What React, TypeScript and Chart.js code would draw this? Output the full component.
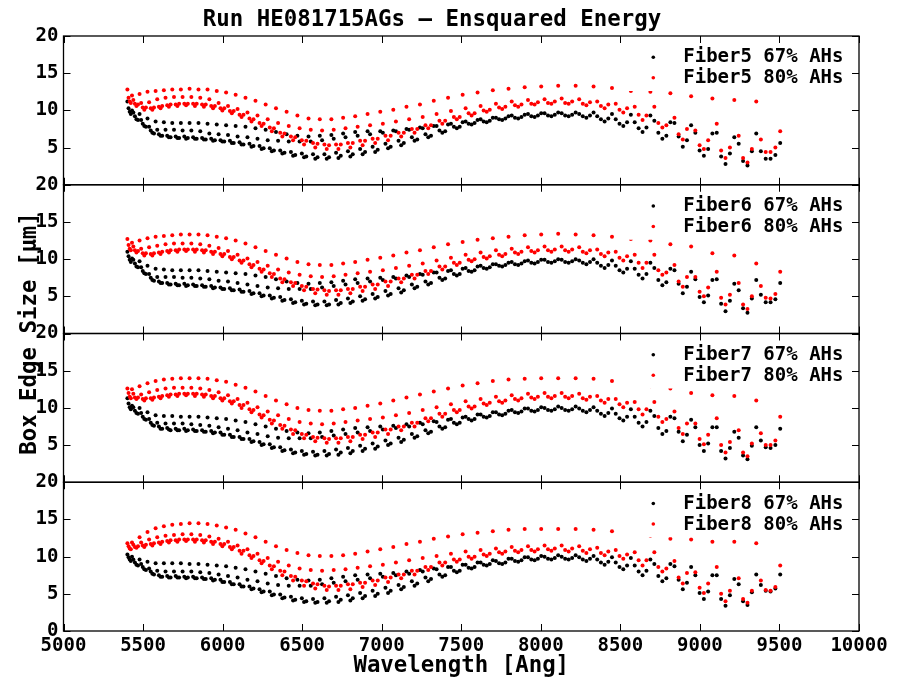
import React, { useEffect, useRef } from 'react';
import { Chart, registerables } from 'chart.js';

Chart.register(...registerables);

const chartTitle = 'Run HE081715AGs – Ensquared Energy';
const xAxisTitle = 'Wavelength [Ang]';
const yAxisTitle = 'Box Edge Size [μm]';
const xTickValues = [5000, 5500, 6000, 6500, 7000, 7500, 8000, 8500, 9000, 9500, 10000];
const yTickValues = [0, 5, 10, 15, 20];
const fiberNames = ['Fiber5', 'Fiber6', 'Fiber7', 'Fiber8'];
const levelNames = ['67% AHs', '80% AHs'];
const levelColors = ['#000000', '#ff0000'];

// echelle order edges [Ang] and sample positions inside each order (fraction of the order)
const orderEdges = [5398, 5434, 5483, 5533, 5584, 5636, 5689, 5743, 5798, 5854, 5911, 5969, 6028, 6088, 6150, 6213, 6277, 6342, 6409, 6477, 6547, 6618, 6691, 6765, 6841, 6919, 6999, 7081, 7164, 7249, 7336, 7426, 7518, 7612, 7708, 7807, 7909, 8013, 8120, 8230, 8343, 8459, 8578, 8701, 8827, 8958, 9092, 9230, 9368, 9520];
const samplePos = [0.1, 0.3, 0.5, 0.7, 0.9];

// box edge size [um], one row per order
const fiber5_67 = [
  [11.2,10.3,9.8,9.5,10.0],[9.7,9.2,8.8,8.7,9.5],[8.7,8.2,7.9,7.8,8.9],[7.8,7.3,7.0,6.9,8.5],[7.4,6.8,6.6,6.6,8.4],
  [7.4,6.6,6.4,6.4,8.3],[7.4,6.5,6.3,6.3,8.3],[7.3,6.5,6.2,6.3,8.3],[7.3,6.4,6.2,6.2,8.3],[7.2,6.3,6.1,6.1,8.2],
  [6.9,6.2,5.9,6.0,8.1],[6.8,6.0,5.8,5.8,8.0],[6.7,5.9,5.6,5.6,7.9],[6.5,5.7,5.4,5.4,7.8],[6.4,5.5,5.1,5.2,7.6],
  [6.2,5.2,4.8,4.9,7.4],[6.0,4.9,4.5,4.6,7.1],[5.9,4.6,4.2,4.3,6.8],[5.8,4.4,3.9,4.0,6.6],[5.8,4.2,3.7,3.8,6.5],
  [5.8,4.1,3.5,3.7,6.6],[6.0,4.1,3.5,3.7,6.7],[6.2,4.3,3.6,3.9,6.9],[6.4,4.5,3.8,4.1,7.1],[6.6,4.8,4.1,4.4,7.2],
  [6.8,5.1,4.4,4.7,7.2],[7.0,5.5,4.9,5.1,7.3],[7.2,5.9,5.3,5.6,7.5],[7.4,6.4,5.9,6.1,7.7],[7.6,6.8,6.4,6.6,7.9],
  [7.9,7.3,7.0,7.2,8.1],[8.2,7.8,7.6,7.8,8.4],[8.5,8.2,8.1,8.3,8.7],[8.8,8.5,8.4,8.6,9.0],[9.0,8.8,8.7,8.9,9.2],
  [9.3,9.0,8.9,9.1,9.4],[9.5,9.2,9.1,9.3,9.6],[9.6,9.3,9.2,9.4,9.7],[9.6,9.3,9.2,9.4,9.7],[9.5,9.2,9.0,9.3,9.7],
  [9.2,8.8,8.5,8.9,9.5],[8.8,8.2,7.9,8.4,9.4],[8.4,7.6,7.1,7.7,9.3],[8.6,7.0,6.2,6.6,8.4],[8.3,6.5,5.1,6.0,8.0],
  [7.0,4.6,3.9,4.8,6.9],[7.0,3.8,2.8,4.2,6.4],[5.5,3.2,2.6,4.5,6.9],[4.5,3.5,3.5,4.0,5.6]
];
const fiber5_80 = [
  [12.8,11.7,11.2,11.0,12.0],[11.4,10.9,10.6,10.8,12.2],[11.0,10.4,10.1,10.4,12.5],[11.1,10.3,10.1,10.4,12.6],[11.5,10.5,10.3,10.6,12.7],
  [11.7,10.7,10.5,10.8,12.8],[11.8,10.8,10.6,10.9,12.8],[11.8,10.9,10.7,10.9,12.9],[11.8,10.9,10.6,10.9,12.8],[11.7,10.8,10.5,10.8,12.8],
  [11.5,10.6,10.3,10.6,12.6],[11.0,10.3,10.0,10.3,12.4],[10.6,9.9,9.6,9.9,12.1],[10.2,9.4,9.1,9.4,11.7],[9.7,8.9,8.5,8.8,11.3],
  [9.3,8.3,7.9,8.2,10.8],[8.8,7.7,7.2,7.6,10.3],[8.3,7.0,6.5,6.9,9.8],[7.9,6.5,6.0,6.4,9.3],[7.6,6.0,5.4,5.9,8.9],
  [7.4,5.6,5.0,5.5,8.8],[7.3,5.4,4.8,5.3,8.8],[7.4,5.4,4.8,5.4,9.0],[7.6,5.6,5.0,5.6,9.2],[7.8,5.9,5.3,5.9,9.5],
  [8.0,6.2,5.6,6.2,9.8],[8.2,6.6,6.0,6.6,10.1],[8.5,7.0,6.5,7.0,10.5],[8.8,7.5,7.0,7.5,10.8],[9.1,8.0,7.6,8.0,11.3],
  [9.5,8.6,8.2,8.6,11.7],[9.9,9.1,8.8,9.1,12.1],[10.3,9.6,9.3,9.6,12.4],[10.6,10.0,9.8,10.1,12.7],[10.9,10.4,10.2,10.5,12.9],
  [11.2,10.7,10.5,10.8,13.1],[11.4,10.9,10.8,11.1,13.2],[11.5,11.0,10.9,11.2,13.3],[11.6,11.0,10.9,11.2,13.3],[11.5,10.9,10.7,11.1,13.2],
  [11.2,10.6,10.3,10.8,13.0],[10.9,10.1,9.7,10.3,12.6],[10.5,9.4,8.7,9.3,12.5],[10.5,8.3,7.7,8.0,12.3],[9.0,6.8,6.1,7.5,11.9],
  [7.3,5.3,4.8,6.0,11.6],[8.2,4.6,3.6,5.0,11.4],[6.6,3.6,3.0,4.8,11.2],[6.1,4.4,4.4,5.0,7.2]
];
const fiber6_67 = [
  [11.0,10.4,9.9,9.6,10.1],[9.9,9.4,9.0,8.9,9.7],[8.9,8.4,8.1,8.0,9.1],[8.0,7.5,7.2,7.1,8.7],[7.6,7.0,6.8,6.8,8.6],
  [7.6,6.8,6.6,6.6,8.5],[7.6,6.7,6.5,6.5,8.5],[7.5,6.7,6.4,6.5,8.5],[7.5,6.6,6.4,6.4,8.5],[7.4,6.5,6.3,6.3,8.4],
  [7.3,6.4,6.1,6.2,8.3],[7.1,6.2,6.0,6.0,8.2],[7.0,6.1,5.8,5.8,8.1],[6.8,5.9,5.6,5.6,8.0],[6.6,5.7,5.3,5.4,7.8],
  [6.4,5.4,5.0,5.1,7.6],[6.2,5.1,4.7,4.8,7.3],[6.1,4.9,4.4,4.5,7.0],[6.0,4.6,4.1,4.2,6.8],[6.0,4.4,3.9,4.0,6.7],
  [6.0,4.3,3.8,3.9,6.8],[6.2,4.3,3.8,3.9,6.9],[6.4,4.5,3.9,4.1,7.1],[6.6,4.7,4.1,4.3,7.3],[6.8,5.0,4.4,4.6,7.4],
  [7.0,5.3,4.7,4.9,7.5],[7.2,5.7,5.1,5.3,7.6],[7.4,6.1,5.5,5.8,7.8],[7.6,6.6,6.1,6.3,8.0],[7.9,7.0,6.6,6.8,8.2],
  [8.2,7.5,7.2,7.4,8.4],[8.5,8.0,7.8,8.0,8.7],[8.8,8.4,8.3,8.5,9.0],[9.1,8.8,8.7,8.9,9.3],[9.3,9.1,9.0,9.2,9.5],
  [9.6,9.3,9.2,9.4,9.7],[9.8,9.5,9.4,9.6,9.9],[9.9,9.6,9.5,9.7,10.0],[9.9,9.6,9.5,9.7,10.0],[9.8,9.5,9.3,9.6,10.0],
  [9.5,9.1,8.8,9.2,9.8],[9.1,8.5,8.2,8.7,9.7],[8.7,7.9,7.4,8.0,9.5],[8.8,7.2,6.5,6.9,8.7],[8.5,6.7,5.4,6.3,8.3],
  [7.3,4.9,4.2,5.1,7.2],[7.3,4.0,3.0,4.4,6.7],[5.8,3.4,2.8,4.7,7.2],[5.2,4.2,4.2,4.6,6.8]
];
const fiber6_80 = [
  [12.7,11.9,11.4,11.2,12.2],[11.7,11.2,10.9,11.1,12.5],[11.4,10.8,10.5,10.8,12.8],[11.6,10.7,10.5,10.8,13.0],[11.8,10.9,10.7,11.0,13.1],
  [12.0,11.1,10.9,11.2,13.2],[12.1,11.2,11.0,11.3,13.3],[12.1,11.3,11.1,11.3,13.3],[12.1,11.3,11.0,11.3,13.3],[12.0,11.2,10.9,11.2,13.2],
  [11.8,11.0,10.7,11.0,13.0],[11.5,10.7,10.4,10.7,12.8],[11.1,10.3,10.0,10.3,12.5],[10.6,9.8,9.5,9.8,12.1],[10.1,9.3,8.9,9.2,11.6],
  [9.6,8.7,8.3,8.6,11.1],[9.1,8.1,7.6,8.0,10.6],[8.6,7.4,6.9,7.3,10.1],[8.2,6.9,6.4,6.8,9.6],[7.9,6.4,5.8,6.3,9.3],
  [7.7,6.0,5.4,5.9,9.2],[7.6,5.8,5.2,5.7,9.2],[7.7,5.8,5.2,5.8,9.4],[7.9,6.0,5.4,6.0,9.6],[8.1,6.3,5.7,6.3,9.9],
  [8.3,6.6,6.0,6.6,10.2],[8.5,7.0,6.4,7.0,10.5],[8.8,7.4,6.9,7.4,10.9],[9.1,7.9,7.4,7.9,11.2],[9.4,8.4,8.0,8.4,11.6],
  [9.8,9.0,8.6,9.0,12.0],[10.2,9.5,9.2,9.5,12.3],[10.6,9.9,9.7,10.0,12.6],[10.9,10.3,10.1,10.4,12.8],[11.2,10.6,10.4,10.7,13.0],
  [11.4,10.9,10.7,11.0,13.2],[11.6,11.1,10.9,11.2,13.3],[11.7,11.2,11.0,11.3,13.4],[11.7,11.2,11.0,11.3,13.3],[11.6,11.0,10.8,11.2,13.2],
  [11.3,10.7,10.4,10.9,13.0],[11.0,10.2,9.8,10.4,12.7],[10.6,9.5,8.8,9.5,12.5],[10.6,8.5,7.9,8.2,12.0],[9.2,7.0,6.3,7.6,11.7],
  [7.6,5.6,5.0,6.2,10.8],[8.3,4.8,3.9,5.2,10.5],[6.8,3.9,3.3,5.0,9.4],[6.4,4.8,4.7,5.3,8.3]
];
const fiber7_67 = [
  [11.3,10.6,10.1,9.8,10.3],[10.1,9.6,9.3,9.2,10.0],[9.3,8.8,8.5,8.4,9.4],[8.5,8.0,7.7,7.6,9.0],[8.0,7.5,7.2,7.2,8.9],
  [7.9,7.3,7.1,7.0,8.9],[7.9,7.2,7.0,7.0,8.8],[7.9,7.2,6.9,7.0,8.8],[7.8,7.1,6.9,6.9,8.8],[7.7,7.0,6.8,6.8,8.7],
  [7.6,6.9,6.6,6.7,8.6],[7.4,6.7,6.4,6.4,8.5],[7.2,6.4,6.1,6.1,8.3],[7.0,6.1,5.8,5.8,8.1],[6.7,5.8,5.4,5.5,7.8],
  [6.5,5.4,5.0,5.1,7.5],[6.2,5.1,4.6,4.7,7.2],[6.0,4.7,4.2,4.3,6.9],[5.9,4.4,3.9,4.0,6.7],[5.9,4.2,3.7,3.8,6.6],
  [5.9,4.1,3.6,3.7,6.7],[6.1,4.2,3.6,3.8,6.9],[6.3,4.4,3.7,4.0,7.1],[6.5,4.6,3.9,4.2,7.3],[6.7,4.9,4.2,4.5,7.4],
  [6.9,5.2,4.5,4.8,7.5],[7.1,5.6,5.0,5.2,7.6],[7.3,6.0,5.4,5.7,7.8],[7.5,6.5,6.0,6.2,8.0],[7.8,7.0,6.6,6.8,8.2],
  [8.1,7.5,7.2,7.4,8.4],[8.5,8.0,7.8,8.0,8.7],[8.8,8.5,8.3,8.5,9.1],[9.1,8.8,8.7,8.9,9.4],[9.4,9.1,9.0,9.2,9.6],
  [9.7,9.4,9.3,9.5,9.9],[9.9,9.6,9.5,9.7,10.1],[10.0,9.7,9.6,9.8,10.2],[10.0,9.7,9.6,9.8,10.2],[9.9,9.6,9.4,9.7,10.1],
  [9.6,9.2,8.9,9.3,9.9],[9.2,8.6,8.3,8.8,9.8],[8.8,8.0,7.5,8.1,9.6],[8.9,7.3,6.5,6.9,8.8],[8.6,6.8,5.5,6.4,8.4],
  [7.4,5.0,4.2,5.2,7.4],[7.4,4.2,3.2,4.6,6.8],[6.0,3.6,3.1,4.9,7.4],[5.6,4.7,4.6,5.0,7.2]
];
const fiber7_80 = [
  [12.6,12.0,11.5,11.3,12.5],[11.9,11.4,11.2,11.4,12.9],[11.8,11.2,11.0,11.3,13.3],[12.1,11.3,11.1,11.4,13.6],[12.4,11.5,11.3,11.6,13.8],
  [12.6,11.7,11.5,11.8,13.9],[12.7,11.8,11.6,11.9,14.0],[12.7,11.9,11.7,11.9,14.0],[12.7,11.9,11.6,11.9,14.0],[12.6,11.8,11.5,11.8,13.9],
  [12.4,11.6,11.3,11.6,13.7],[12.1,11.3,11.0,11.3,13.5],[11.7,10.9,10.6,10.9,13.1],[11.2,10.4,10.0,10.4,12.7],[10.7,9.8,9.4,9.7,12.2],
  [10.1,9.1,8.7,9.0,11.6],[9.5,8.4,7.9,8.3,11.0],[9.0,7.7,7.2,7.6,10.5],[8.5,7.1,6.5,7.0,10.0],[8.1,6.5,5.9,6.4,9.7],
  [7.9,6.1,5.5,6.0,9.6],[7.8,5.9,5.3,5.8,9.6],[7.9,5.9,5.3,5.9,9.8],[8.1,6.1,5.5,6.1,10.0],[8.3,6.4,5.8,6.4,10.3],
  [8.5,6.7,6.1,6.7,10.6],[8.7,7.1,6.5,7.1,11.0],[9.0,7.5,7.0,7.5,11.4],[9.3,8.0,7.5,8.0,11.8],[9.7,8.6,8.2,8.6,12.2],
  [10.1,9.2,8.8,9.2,12.6],[10.5,9.7,9.4,9.7,13.0],[10.9,10.2,9.9,10.2,13.3],[11.2,10.6,10.4,10.7,13.6],[11.5,10.9,10.7,11.0,13.8],
  [11.7,11.2,11.0,11.3,13.9],[11.9,11.4,11.2,11.5,14.0],[12.0,11.5,11.3,11.6,14.0],[12.0,11.5,11.3,11.6,14.0],[11.9,11.3,11.1,11.5,13.9],
  [11.6,11.0,10.7,11.2,13.6],[11.2,10.5,10.1,10.7,13.2],[10.8,9.8,9.1,9.8,12.9],[10.8,8.8,8.1,8.5,12.6],[9.5,7.3,6.5,7.9,12.0],
  [7.9,5.8,5.1,6.4,11.7],[8.6,5.0,4.0,5.4,11.6],[7.0,4.0,3.5,5.2,11.0],[6.6,5.0,5.0,5.6,8.8]
];
const fiber8_67 = [
  [10.3,9.9,9.6,9.4,10.0],[9.6,9.2,8.9,8.8,9.6],[9.0,8.6,8.3,8.2,9.3],[8.4,8.0,7.7,7.6,9.1],[8.1,7.5,7.3,7.3,9.1],
  [8.0,7.4,7.2,7.2,9.1],[8.0,7.4,7.2,7.2,9.1],[8.0,7.3,7.1,7.2,9.0],[8.0,7.3,7.1,7.1,9.0],[7.9,7.2,7.0,7.0,8.9],
  [7.8,7.1,6.8,6.9,8.8],[7.6,6.9,6.6,6.6,8.7],[7.4,6.6,6.3,6.3,8.5],[7.2,6.3,6.0,6.0,8.3],[6.9,6.0,5.6,5.7,8.0],
  [6.7,5.6,5.2,5.3,7.7],[6.4,5.3,4.8,4.9,7.4],[6.2,4.9,4.4,4.5,7.1],[6.1,4.6,4.1,4.2,6.9],[6.1,4.4,3.9,4.0,6.8],
  [6.1,4.3,3.8,3.9,6.9],[6.3,4.4,3.8,4.0,7.1],[6.5,4.6,3.9,4.2,7.3],[6.7,4.8,4.1,4.4,7.5],[6.9,5.1,4.4,4.7,7.6],
  [7.1,5.4,4.7,5.0,7.7],[7.3,5.8,5.1,5.4,7.8],[7.5,6.2,5.6,5.9,8.0],[7.7,6.7,6.1,6.4,8.2],[8.0,7.2,6.7,7.0,8.4],
  [8.3,7.6,7.3,7.5,8.6],[8.6,8.1,7.9,8.1,8.9],[8.9,8.5,8.4,8.6,9.2],[9.2,8.9,8.8,9.0,9.5],[9.4,9.1,9.0,9.2,9.7],
  [9.7,9.4,9.3,9.5,9.9],[9.9,9.6,9.5,9.7,10.1],[10.0,9.7,9.6,9.8,10.2],[10.0,9.7,9.6,9.8,10.2],[9.9,9.6,9.4,9.7,10.1],
  [9.6,9.2,8.9,9.3,9.9],[9.2,8.6,8.3,8.8,9.8],[8.8,8.0,7.5,8.1,9.6],[9.0,7.4,6.7,7.1,9.0],[8.7,6.9,5.6,6.5,8.6],
  [7.5,5.1,4.3,5.3,7.5],[7.5,4.3,3.4,4.8,7.0],[6.3,4.0,3.5,5.2,7.6],[6.2,5.4,5.3,5.7,7.6]
];
const fiber8_80 = [
  [11.8,11.4,11.1,11.0,11.9],[11.6,11.3,11.2,11.4,12.6],[11.9,11.5,11.3,11.6,13.3],[12.3,11.7,11.5,11.8,13.8],[12.6,11.9,11.7,12.0,14.1],
  [12.8,12.1,11.9,12.2,14.3],[12.9,12.2,12.0,12.3,14.4],[13.0,12.3,12.1,12.3,14.5],[13.0,12.3,12.0,12.3,14.5],[12.9,12.2,11.9,12.2,14.4],
  [12.7,12.0,11.7,12.0,14.2],[12.4,11.7,11.4,11.7,13.9],[12.0,11.3,11.0,11.3,13.6],[11.5,10.8,10.4,10.8,13.1],[11.0,10.2,9.8,10.1,12.6],
  [10.4,9.5,9.1,9.4,12.0],[9.8,8.8,8.3,8.7,11.4],[9.3,8.1,7.5,8.0,10.9],[8.8,7.4,6.8,7.3,10.5],[8.4,6.8,6.1,6.7,10.2],
  [8.2,6.4,5.7,6.3,10.1],[8.1,6.1,5.5,6.0,10.1],[8.2,6.1,5.5,6.1,10.2],[8.3,6.3,5.6,6.3,10.4],[8.5,6.5,5.9,6.5,10.7],
  [8.7,6.8,6.2,6.8,11.0],[8.9,7.2,6.6,7.2,11.3],[9.2,7.6,7.1,7.6,11.7],[9.5,8.1,7.6,8.1,12.0],[9.8,8.6,8.2,8.6,12.4],
  [10.1,9.2,8.8,9.2,12.7],[10.4,9.6,9.3,9.6,13.0],[10.7,10.0,9.7,10.0,13.2],[10.9,10.3,10.1,10.4,13.4],[11.1,10.6,10.4,10.7,13.6],
  [11.3,10.8,10.6,10.9,13.7],[11.4,10.9,10.7,11.0,13.7],[11.5,11.0,10.8,11.1,13.7],[11.5,10.9,10.7,11.1,13.7],[11.4,10.8,10.5,11.0,13.6],
  [11.2,10.5,10.2,10.7,13.4],[10.9,10.1,9.7,10.3,13.1],[10.6,9.5,8.8,9.5,12.8],[10.6,8.6,8.0,8.4,12.4],[9.4,7.2,6.4,7.8,12.3],
  [7.9,5.8,5.1,6.4,12.0],[8.6,5.0,4.0,5.4,12.0],[7.1,4.3,3.8,5.4,11.8],[6.8,5.5,5.4,5.9,8.8]
];

const panelSeries = [
  [fiber5_67, fiber5_80],
  [fiber6_67, fiber6_80],
  [fiber7_67, fiber7_80],
  [fiber8_67, fiber8_80],
];

const FONT = "'DejaVu Sans Mono', monospace";
const panelIds = ['p0', 'p1', 'p2', 'p3'];

function toPoints(rows: number[][]) {
  const pts: { x: number; y: number }[] = [];
  rows.forEach((row, i) => {
    const a = orderEdges[i];
    const b = orderEdges[i + 1];
    row.forEach((v, j) => pts.push({ x: a + samplePos[j] * (b - a), y: v }));
  });
  return pts;
}

const decorPlugin = {
  id: 'decor',
  afterDatasetsDraw(chart: any) {
    const ctx = chart.ctx;
    const xs = chart.scales.x;
    ctx.save();
    panelIds.forEach((id, p) => {
      const ys = chart.scales[id];
      const top = ys.top;
      // legend box (opaque, no frame)
      ctx.fillStyle = '#ffffff';
      ctx.fillRect(xs.right - 232, top + 3, 229, 52);
      levelNames.forEach((nm, k) => {
        const my = top + 21.3 + k * 20.4;
        ctx.fillStyle = levelColors[k];
        ctx.beginPath();
        ctx.arc(xs.right - 205.7, my, 1.8, 0, Math.PI * 2);
        ctx.fill();
        ctx.fillStyle = '#000';
        ctx.font = `bold 19px ${FONT}`;
        ctx.textAlign = 'left';
        ctx.textBaseline = 'alphabetic';
        ctx.fillText(`${fiberNames[p]} ${nm}`, xs.right - 175.7, top + 26.3 + k * 21);
      });
      // frame
      ctx.strokeStyle = '#000';
      ctx.lineWidth = 1.3;
      ctx.strokeRect(xs.left, ys.top, xs.right - xs.left, ys.bottom - ys.top);
      // inward ticks
      ctx.lineWidth = 1;
      ctx.beginPath();
      xTickValues.forEach((v) => {
        const px = Math.round(xs.getPixelForValue(v)) + 0.5;
        ctx.moveTo(px, ys.top);
        ctx.lineTo(px, ys.top + 7);
        ctx.moveTo(px, ys.bottom);
        ctx.lineTo(px, ys.bottom - 7);
      });
      yTickValues.forEach((v) => {
        const py = Math.round(ys.getPixelForValue(v)) + 0.5;
        ctx.moveTo(xs.left, py);
        ctx.lineTo(xs.left + 7, py);
        ctx.moveTo(xs.right, py);
        ctx.lineTo(xs.right - 7, py);
      });
      ctx.stroke();
    });
    // titles
    ctx.fillStyle = '#000';
    ctx.font = `bold 22.4px ${FONT}`;
    ctx.textAlign = 'center';
    ctx.textBaseline = 'alphabetic';
    ctx.fillText(chartTitle, 432, 26);
    ctx.fillText(xAxisTitle, (xs.left + xs.right) / 2, 672);
    const yTop = chart.scales[panelIds[0]].top;
    const yBot = chart.scales[panelIds[3]].bottom;
    ctx.translate(36, (yTop + yBot) / 2);
    ctx.rotate(-Math.PI / 2);
    ctx.fillText(yAxisTitle, 0, 0);
    ctx.restore();
  },
};

export default function App() {
  const ref = useRef<HTMLCanvasElement | null>(null);
  useEffect(() => {
    if (!ref.current) return;
    const datasets: any[] = [];
    panelSeries.forEach((pair, p) => {
      pair.forEach((rows, k) => {
        datasets.push({
          label: `${fiberNames[p]} ${levelNames[k]}`,
          data: toPoints(rows),
          yAxisID: panelIds[p],
          backgroundColor: levelColors[k],
          borderColor: levelColors[k],
          pointRadius: 2,
          pointBorderWidth: 0,
          pointHoverRadius: 2,
          showLine: false,
          order: k === 1 ? 0 : 1,
        });
      });
    });
    const yScale = (p: number) => ({
      type: 'linear',
      position: 'left',
      stack: 'panels',
      stackWeight: 1,
      offset: false,
      min: 0,
      max: 20,
      weight: 10 - p,
      afterBuildTicks: (s: any) => {
        s.ticks = yTickValues.map((v) => ({ value: v }));
      },
      afterFit: (s: any) => {
        s.width = 63.5;
      },
      grid: { display: false, drawTicks: false },
      border: { display: false },
      ticks: {
        autoSkip: false,
        padding: 5,
        color: '#000',
        font: { family: FONT, size: 19, weight: 'bold' },
        callback: (v: any) => (v === 0 && p < 3 ? '' : String(v)),
      },
    });
    const scales: any = {
      x: {
        type: 'linear',
        position: 'bottom',
        min: 5000,
        max: 10000,
        afterBuildTicks: (s: any) => {
          s.ticks = xTickValues.map((v) => ({ value: v }));
        },
        afterFit: (s: any) => {
          s.height = 47;
        },
        grid: { display: false, drawTicks: false },
        border: { display: false },
        ticks: {
          autoSkip: false,
          maxRotation: 0,
          padding: 4,
          color: '#000',
          font: { family: FONT, size: 19, weight: 'bold' },
          callback: (v: any) => String(v),
        },
      },
    };
    panelIds.forEach((id, p) => {
      scales[id] = yScale(p);
    });
    const chart = new Chart(ref.current, {
      type: 'scatter',
      data: { datasets },
      options: {
        animation: false,
        responsive: false,
        devicePixelRatio: 1,
        layout: { padding: { top: 36, right: 38, left: 0, bottom: 0 } },
        plugins: { legend: { display: false }, tooltip: { enabled: false }, title: { display: false } },
        scales,
      },
      plugins: [decorPlugin],
    } as any);
    return () => chart.destroy();
  }, []);
  return (
    <div style={{ position: 'fixed', left: 0, top: 0, width: 897, height: 678, background: '#fff' }}>
      <canvas ref={ref} width={897} height={678} style={{ width: 897, height: 678 }} />
    </div>
  );
}
